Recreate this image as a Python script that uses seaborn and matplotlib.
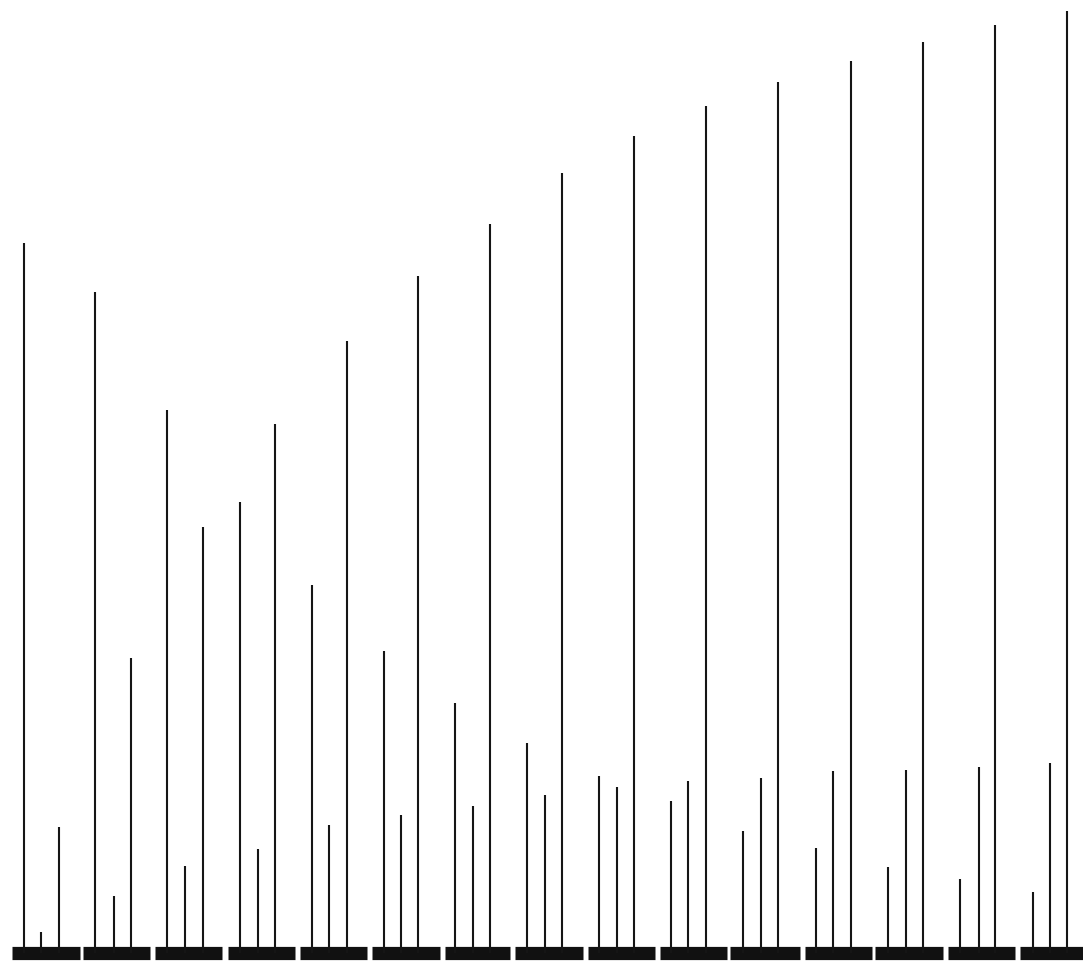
import matplotlib
matplotlib.use("Agg")
import matplotlib.pyplot as plt
import pandas as pd
import seaborn as sns

# Peak positions (horizontal chart units) and intensities, three peak series
peak_a_pos = [24, 95, 167, 240, 312, 384, 455, 527, 599, 671, 743, 816, 888, 960, 1033]
peak_a_int = [710, 661, 543, 451, 368, 302, 250, 210, 177, 152, 122, 105, 86, 74, 61]

peak_b_pos = [41, 114, 185, 258, 329, 401, 473, 545, 617, 688, 761, 833, 906, 979, 1050]
peak_b_int = [21, 57, 87, 104, 128, 138, 147, 158, 166, 172, 175, 182, 183, 186, 190]

peak_c_pos = [59, 131, 203, 275, 347, 418, 490, 562, 634, 706, 778, 851, 923, 995, 1067]
peak_c_int = [126, 295, 426, 529, 612, 677, 729, 780, 817, 847, 871, 892, 911, 928, 942]

# Baseline segments (one per spectrum trace)
seg_start = [12, 83, 155, 228, 300, 372, 445, 515, 588, 660, 730, 805, 875, 948, 1020]
seg_end = [80, 150, 222, 295, 367, 440, 510, 583, 655, 727, 800, 872, 943, 1015, 1083]

sns.set_style("white")

rows = []
uid = 0
for pos, inten in ((peak_a_pos, peak_a_int), (peak_b_pos, peak_b_int), (peak_c_pos, peak_c_int)):
    for x, h in zip(pos, inten):
        rows.append({"x": x, "y": 0, "id": uid})
        rows.append({"x": x, "y": h, "id": uid})
        uid += 1
peaks = pd.DataFrame(rows)

brow = []
for i, (s, e) in enumerate(zip(seg_start, seg_end)):
    brow.append({"x": s, "y": 0, "id": i})
    brow.append({"x": e, "y": 0, "id": i})
base = pd.DataFrame(brow)

fig = plt.figure(figsize=(10.83, 9.64), dpi=100)
ax = fig.add_axes([0, 0, 1, 1])

sns.lineplot(data=base, x="x", y="y", units="id", estimator=None, sort=False,
             color="#111111", linewidth=9.5, solid_capstyle="butt", ax=ax, legend=False)
sns.lineplot(data=peaks, x="x", y="y", units="id", estimator=None, sort=False,
             color="#151515", linewidth=1.5, solid_capstyle="butt", ax=ax, legend=False)

ax.set_xlim(0, 1083)
ax.set_ylim(-11, 953)
ax.set_axis_off()

fig.savefig("out.png", dpi=100, facecolor="white")
